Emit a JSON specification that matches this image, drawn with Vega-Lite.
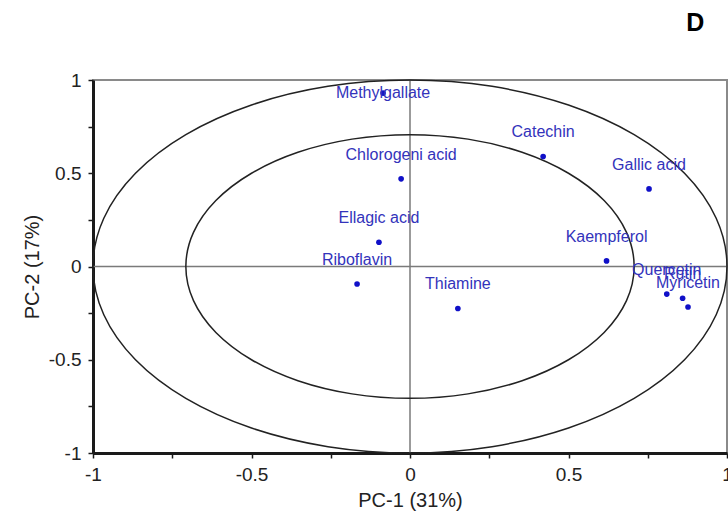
{
  "$schema": "https://vega.github.io/schema/vega-lite/v6.json",
  "autosize": "none",
  "width": 634,
  "height": 373,
  "padding": {"left": 93, "top": 80, "right": 1, "bottom": 76},
  "background": "white",
  "title": {"text": "D", "anchor": "end", "orient": "top", "offset": 35, "dx": -28, "fontSize": 25, "fontWeight": "bold", "font": "Liberation Sans", "color": "#000000"},
  "config": {
    "view": {"stroke": "#8a8a8a", "strokeWidth": 2},
    "axis": {"grid": false, "domainColor": "#1a1a1a", "domainWidth": 3, "tickColor": "#1a1a1a", "tickWidth": 1.5, "tickSize": 5, "labelFont": "Liberation Sans", "labelFontSize": 19, "labelColor": "#222222", "titleFont": "Liberation Sans", "titleFontSize": 20, "titleFontWeight": "normal", "titleColor": "#222222", "labelFlush": false, "labelOverlap": false, "labelBound": false}
  },
  "datasets": {
    "pts": [
      {"name": "Methylgallate", "x": -0.085, "y": 0.93},
      {"name": "Chlorogeni acid", "x": -0.028, "y": 0.47},
      {"name": "Ellagic acid", "x": -0.098, "y": 0.13},
      {"name": "Riboflavin", "x": -0.167, "y": -0.094},
      {"name": "Thiamine", "x": 0.151, "y": -0.225},
      {"name": "Catechin", "x": 0.42, "y": 0.59},
      {"name": "Gallic acid", "x": 0.754, "y": 0.416},
      {"name": "Kaempferol", "x": 0.62, "y": 0.03},
      {"name": "Quercetin", "x": 0.81, "y": -0.148},
      {"name": "Rutin", "x": 0.86, "y": -0.17},
      {"name": "Myricetin", "x": 0.877, "y": -0.217}
    ],
    "rings": [
      {"ring": "outer", "k": 0, "x": 1, "y": 0},
      {"ring": "outer", "k": 1, "x": 0.9659, "y": 0.2588},
      {"ring": "outer", "k": 2, "x": 0.866, "y": 0.5},
      {"ring": "outer", "k": 3, "x": 0.7071, "y": 0.7071},
      {"ring": "outer", "k": 4, "x": 0.5, "y": 0.866},
      {"ring": "outer", "k": 5, "x": 0.2588, "y": 0.9659},
      {"ring": "outer", "k": 6, "x": 0, "y": 1},
      {"ring": "outer", "k": 7, "x": -0.2588, "y": 0.9659},
      {"ring": "outer", "k": 8, "x": -0.5, "y": 0.866},
      {"ring": "outer", "k": 9, "x": -0.7071, "y": 0.7071},
      {"ring": "outer", "k": 10, "x": -0.866, "y": 0.5},
      {"ring": "outer", "k": 11, "x": -0.9659, "y": 0.2588},
      {"ring": "outer", "k": 12, "x": -1, "y": 0},
      {"ring": "outer", "k": 13, "x": -0.9659, "y": -0.2588},
      {"ring": "outer", "k": 14, "x": -0.866, "y": -0.5},
      {"ring": "outer", "k": 15, "x": -0.7071, "y": -0.7071},
      {"ring": "outer", "k": 16, "x": -0.5, "y": -0.866},
      {"ring": "outer", "k": 17, "x": -0.2588, "y": -0.9659},
      {"ring": "outer", "k": 18, "x": 0, "y": -1},
      {"ring": "outer", "k": 19, "x": 0.2588, "y": -0.9659},
      {"ring": "outer", "k": 20, "x": 0.5, "y": -0.866},
      {"ring": "outer", "k": 21, "x": 0.7071, "y": -0.7071},
      {"ring": "outer", "k": 22, "x": 0.866, "y": -0.5},
      {"ring": "outer", "k": 23, "x": 0.9659, "y": -0.2588},
      {"ring": "inner", "k": 0, "x": 0.7071, "y": 0},
      {"ring": "inner", "k": 1, "x": 0.683, "y": 0.183},
      {"ring": "inner", "k": 2, "x": 0.6124, "y": 0.3536},
      {"ring": "inner", "k": 3, "x": 0.5, "y": 0.5},
      {"ring": "inner", "k": 4, "x": 0.3536, "y": 0.6124},
      {"ring": "inner", "k": 5, "x": 0.183, "y": 0.683},
      {"ring": "inner", "k": 6, "x": 0, "y": 0.7071},
      {"ring": "inner", "k": 7, "x": -0.183, "y": 0.683},
      {"ring": "inner", "k": 8, "x": -0.3536, "y": 0.6124},
      {"ring": "inner", "k": 9, "x": -0.5, "y": 0.5},
      {"ring": "inner", "k": 10, "x": -0.6124, "y": 0.3536},
      {"ring": "inner", "k": 11, "x": -0.683, "y": 0.183},
      {"ring": "inner", "k": 12, "x": -0.7071, "y": 0},
      {"ring": "inner", "k": 13, "x": -0.683, "y": -0.183},
      {"ring": "inner", "k": 14, "x": -0.6124, "y": -0.3536},
      {"ring": "inner", "k": 15, "x": -0.5, "y": -0.5},
      {"ring": "inner", "k": 16, "x": -0.3536, "y": -0.6124},
      {"ring": "inner", "k": 17, "x": -0.183, "y": -0.683},
      {"ring": "inner", "k": 18, "x": 0, "y": -0.7071},
      {"ring": "inner", "k": 19, "x": 0.183, "y": -0.683},
      {"ring": "inner", "k": 20, "x": 0.3536, "y": -0.6124},
      {"ring": "inner", "k": 21, "x": 0.5, "y": -0.5},
      {"ring": "inner", "k": 22, "x": 0.6124, "y": -0.3536},
      {"ring": "inner", "k": 23, "x": 0.683, "y": -0.183}
    ],
    "zero": [{"v": 0}]
  },
  "layer": [
    {
      "data": {"name": "pts"},
      "mark": {"type": "point", "opacity": 0},
      "encoding": {
        "x": {"field": "x", "type": "quantitative", "scale": {"domain": [-1, 1], "nice": false, "zero": false},
          "axis": {"title": "PC-1 (31%)", "values": [-1, -0.75, -0.5, -0.25, 0, 0.25, 0.5, 0.75, 1], "labelExpr": "abs(datum.value*2 - round(datum.value*2)) < 0.001 ? toString(datum.value) : ''", "labelPadding": 7, "titlePadding": 6}},
        "y": {"field": "y", "type": "quantitative", "scale": {"domain": [-1, 1], "nice": false, "zero": false},
          "axis": {"title": "PC-2 (17%)", "values": [-1, -0.75, -0.5, -0.25, 0, 0.25, 0.5, 0.75, 1], "labelExpr": "abs(datum.value*2 - round(datum.value*2)) < 0.001 ? toString(datum.value) : ''", "labelPadding": 7, "titlePadding": 6}}
      }
    },
    {
      "data": {"name": "zero"},
      "mark": {"type": "rule", "color": "#7a7a7a", "strokeWidth": 1.5},
      "encoding": {"x": {"field": "v", "type": "quantitative"}}
    },
    {
      "data": {"name": "zero"},
      "mark": {"type": "rule", "color": "#7a7a7a", "strokeWidth": 1.5},
      "encoding": {"y": {"field": "v", "type": "quantitative"}}
    },
    {
      "data": {"name": "rings"},
      "mark": {"type": "line", "interpolate": "cardinal-closed", "color": "#222222", "strokeWidth": 1.5},
      "encoding": {
        "x": {"field": "x", "type": "quantitative"},
        "y": {"field": "y", "type": "quantitative"},
        "detail": {"field": "ring"},
        "order": {"field": "k", "type": "quantitative"}
      }
    },
    {
      "data": {"name": "pts"},
      "mark": {"type": "circle", "size": 32, "color": "#1010c8", "opacity": 1},
      "encoding": {
        "x": {"field": "x", "type": "quantitative"},
        "y": {"field": "y", "type": "quantitative"}
      }
    },
    {
      "data": {"name": "pts"},
      "transform": [{"filter": "datum.name != 'Methylgallate'"}],
      "mark": {"type": "text", "dy": -24, "align": "center", "baseline": "middle", "font": "Liberation Sans", "fontSize": 16, "color": "#3333bb"},
      "encoding": {
        "x": {"field": "x", "type": "quantitative"},
        "y": {"field": "y", "type": "quantitative"},
        "text": {"field": "name"}
      }
    },
    {
      "data": {"name": "pts"},
      "transform": [{"filter": "datum.name == 'Methylgallate'"}],
      "mark": {"type": "text", "dy": 0, "align": "center", "baseline": "middle", "font": "Liberation Sans", "fontSize": 16, "color": "#3333bb"},
      "encoding": {
        "x": {"field": "x", "type": "quantitative"},
        "y": {"field": "y", "type": "quantitative"},
        "text": {"field": "name"}
      }
    }
  ]
}
